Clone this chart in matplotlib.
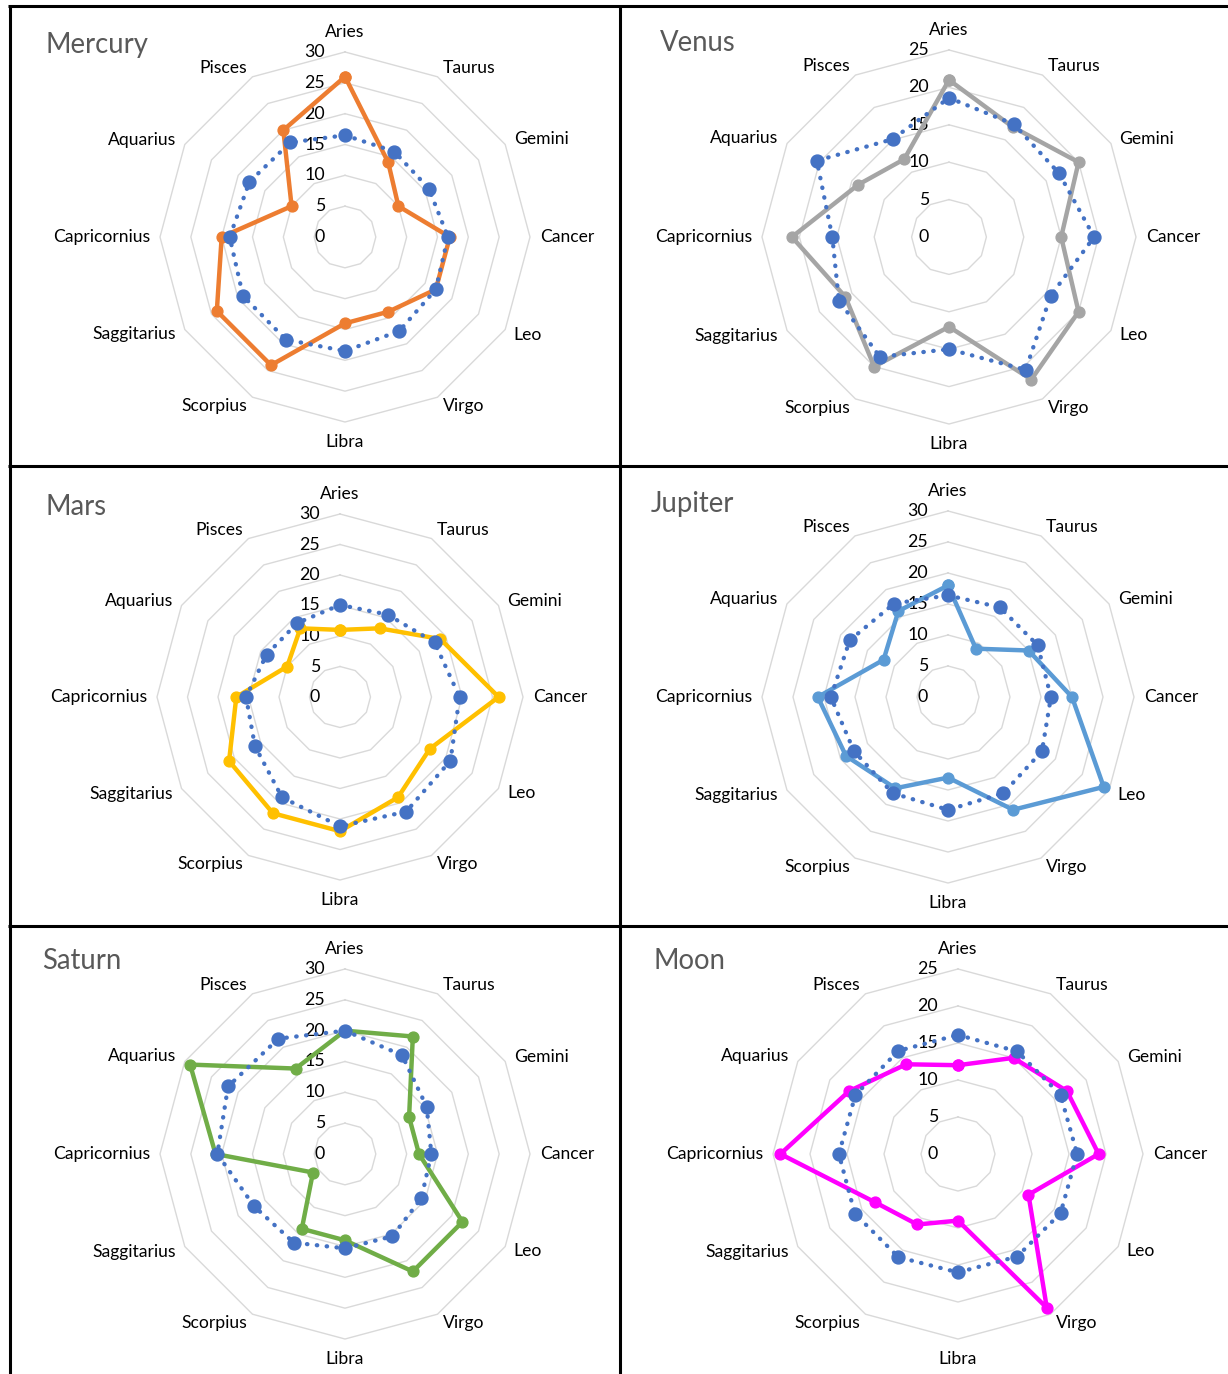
import matplotlib
matplotlib.use("Agg")
import matplotlib.pyplot as plt
from matplotlib.lines import Line2D
import numpy as np

plt.rcParams["font.family"] = ["Lato", "DejaVu Sans"]

W, H = 1228, 1374

SIGNS = ["Aries", "Taurus", "Gemini", "Cancer", "Leo", "Virgo", "Libra",
         "Scorpius", "Saggitarius", "Capricornius", "Aquarius", "Pisces"]

# observed counts per sign, and the expected (baseline) counts drawn dotted
mercury = [26, 14, 10, 17, 17, 14, 14, 24, 24, 20, 10, 20]
mercury_exp = [16.5, 16.0, 15.7, 16.7, 17.0, 17.6, 18.5, 19.2, 19.1, 18.7, 17.9, 17.7]
venus = [21, 17, 20, 15, 20, 22, 12, 20, 16, 21, 14, 12]
venus_exp = [18.6, 17.4, 17.0, 19.4, 15.7, 20.5, 15.0, 18.5, 17.0, 15.6, 20.4, 15.1]
mars = [11, 13, 19, 26, 17, 19, 22, 22, 21, 17, 10, 13]
mars_exp = [15.1, 15.6, 17.9, 19.6, 20.9, 21.7, 21.2, 19.0, 16.1, 15.4, 13.9, 14.0]
jupiter = [18, 9, 15, 20, 29, 21, 13, 17, 19, 21, 12, 16]
jupiter_exp = [16.4, 16.7, 16.7, 16.6, 17.5, 17.9, 18.2, 17.9, 17.5, 18.9, 18.3, 17.4]
saturn = [20, 22, 12, 12, 22, 22, 14, 14, 6, 21, 29, 16]
saturn_exp = [20.0, 18.5, 15.3, 14.0, 14.3, 15.4, 15.3, 16.6, 17.0, 20.7, 21.9, 21.6]
moon = [12, 15, 17, 19, 11, 24, 9, 11, 13, 24, 17, 14]
moon_exp = [16.1, 16.0, 16.0, 16.1, 16.0, 16.0, 16.0, 16.1, 16.1, 16.1, 16.0, 16.1]

EXP_COLOR = "#4472C4"

# name, observed, expected, colour, radial max, centre x/y and radius in px, title x/y
PANELS = [
    ("Mercury", mercury, mercury_exp, "#ED7D31", 30, 345, 237, 185, 46, 45),
    ("Venus", venus, venus_exp, "#A5A5A5", 25, 949, 237, 187, 660, 43),
    ("Mars", mars, mars_exp, "#FFC000", 30, 340, 697, 183, 46, 507),
    ("Jupiter", jupiter, jupiter_exp, "#5B9BD5", 30, 948, 697, 186, 651, 504),
    ("Saturn", saturn, saturn_exp, "#70AD47", 30, 345, 1154, 185, 42, 961),
    ("Moon", moon, moon_exp, "#FF00FF", 25, 958, 1154, 185, 654, 961),
]

fig = plt.figure(figsize=(W / 100, H / 100), dpi=100, facecolor="white")

n = len(SIGNS)
theta = np.linspace(0, 2 * np.pi, n, endpoint=False)
theta_c = np.append(theta, 2 * np.pi)


def closed(vals):
    return np.append(vals, vals[0])


for name, obs, exp, col, rmax, cx, cy, R, tx, ty in PANELS:
    ax = fig.add_axes([(cx - R) / W, 1 - (cy + R) / H, 2 * R / W, 2 * R / H],
                      projection="polar")
    ax.set_theta_zero_location("N")
    ax.set_theta_direction(-1)
    ax.set_ylim(0, rmax)
    ax.set_xticks([])
    ax.set_yticks([])
    ax.grid(False)
    ax.spines["polar"].set_visible(False)
    ax.patch.set_alpha(0)

    # dodecagon gridlines
    levels = np.arange(5, rmax + 1, 5)
    for lv in levels:
        ax.plot(theta_c, [lv] * (n + 1), color="#D9D9D9", lw=1.0, zorder=1,
                clip_on=False)

    # radial value labels just left of the Aries axis
    for lv in np.arange(0, rmax + 1, 5):
        ax.annotate(str(lv), xy=(0, lv), xytext=(-20, 0), textcoords="offset pixels",
                    ha="right", va="center", fontsize=12.8, color="black", zorder=1.5)

    # sign labels outside the outer ring
    for t, s in zip(theta, SIGNS):
        sx, sy = np.sin(t), np.cos(t)
        if abs(sx) < 0.01:
            d, ha = 20, "center"
        else:
            d, ha = 10, ("left" if sx > 0 else "right")
        ax.annotate(s, xy=(t, rmax), xytext=(d * sx, d * sy), textcoords="offset pixels",
                    ha=ha, va="center", fontsize=12.6, color="black",
                    annotation_clip=False)

    ax.plot(theta_c, closed(obs), color=col, lw=3.2, marker="o", ms=7.8,
            zorder=3, clip_on=False, solid_joinstyle="round")
    ax.plot(theta_c, closed(exp), color=EXP_COLOR, lw=3.1, ls=(0, (0.1, 2.2)),
            dash_capstyle="round", zorder=4, clip_on=False)
    ax.plot(theta, exp, ls="none", marker="o", ms=9.3, color=EXP_COLOR,
            zorder=5, clip_on=False)

    fig.text(tx / W, 1 - ty / H, name, ha="left", va="center", fontsize=19.8,
             color="#595959")

# panel borders
frame = dict(color="black", lw=2.2, solid_capstyle="butt")
fig.add_artist(Line2D([8 / W, 1], [1 - 6 / H] * 2, transform=fig.transFigure, **frame))
fig.add_artist(Line2D([8 / W, 1], [1 - 466.5 / H] * 2, transform=fig.transFigure, **frame))
fig.add_artist(Line2D([8 / W, 1], [1 - 925.5 / H] * 2, transform=fig.transFigure, **frame))
fig.add_artist(Line2D([9.5 / W] * 2, [0, 1 - 5 / H], transform=fig.transFigure, **frame))
fig.add_artist(Line2D([620.5 / W] * 2, [0, 1 - 5 / H], transform=fig.transFigure, **frame))

fig.savefig("out.png", dpi=100, facecolor="white")
